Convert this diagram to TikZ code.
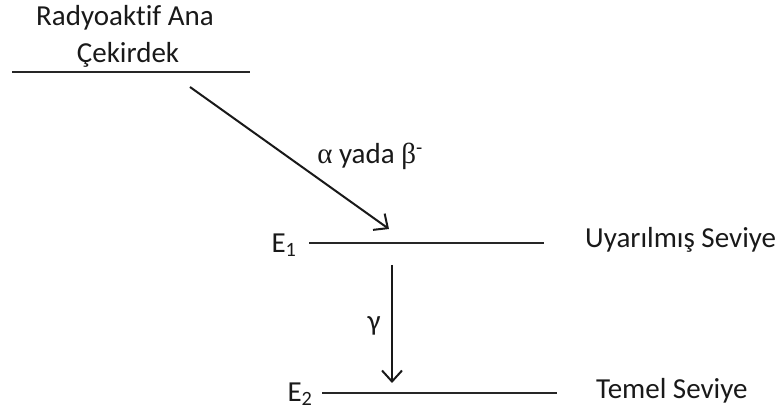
\documentclass[tikz,border=0pt]{standalone}
\usepackage{fontspec}
\setmainfont[Ligatures=NoCommon]{Carlito}
\newfontfamily\symf{Liberation Serif}
\usetikzlibrary{arrows.meta}
\begin{document}
\begin{tikzpicture}[x=1pt,y=-1pt,
  lbl/.style={inner sep=0pt,font=\fontsize{29}{31}\selectfont,text=black!90},
  level/.style={line width=2pt,black!85},
  conn/.style={line width=2pt,black!90,-{Straight Barb[length=11pt,width=20pt,line width=2pt]}}]
\useasboundingbox (0,0) rectangle (782,411);
% parent level
\coordinate (p1) at (12,72);
\coordinate (p2) at (250,72);
\draw[level] (p1) -- (p2);
\node[lbl] (t1) at (125,18) {Radyoaktif Ana};
\node[lbl] (t2) at (128,55) {Çekirdek};
% E1
\coordinate (e1a) at (309,243);
\coordinate (e1b) at (544,243);
\draw[level] (e1a) -- (e1b);
\node[lbl] (E1) at (284,245) {E\textsubscript{1}};
\node[lbl,anchor=west] (u) at (585,240) {Uyarılmış Seviye};
% E2
\coordinate (e2a) at (322,393);
\coordinate (e2b) at (557,393);
\draw[level] (e2a) -- (e2b);
\node[lbl] (E2) at (300,394) {E\textsubscript{2}};
\node[lbl,anchor=west] (tm) at (596,391) {Temel Seviye};
% arrows
\coordinate (a1) at (190,87);
\coordinate (a2) at (389,229);
\draw[conn] (a1) -- (a2);
\node[lbl] (ab) at (370,156) {{\symf α} yada {\symf β}\textsuperscript{-}};
\coordinate (g1) at (392,265);
\coordinate (g2) at (392,383);
\draw[conn] (g1) -- (g2);
\node[lbl] (gm) at (374,326) {γ};
\end{tikzpicture}
\end{document}
